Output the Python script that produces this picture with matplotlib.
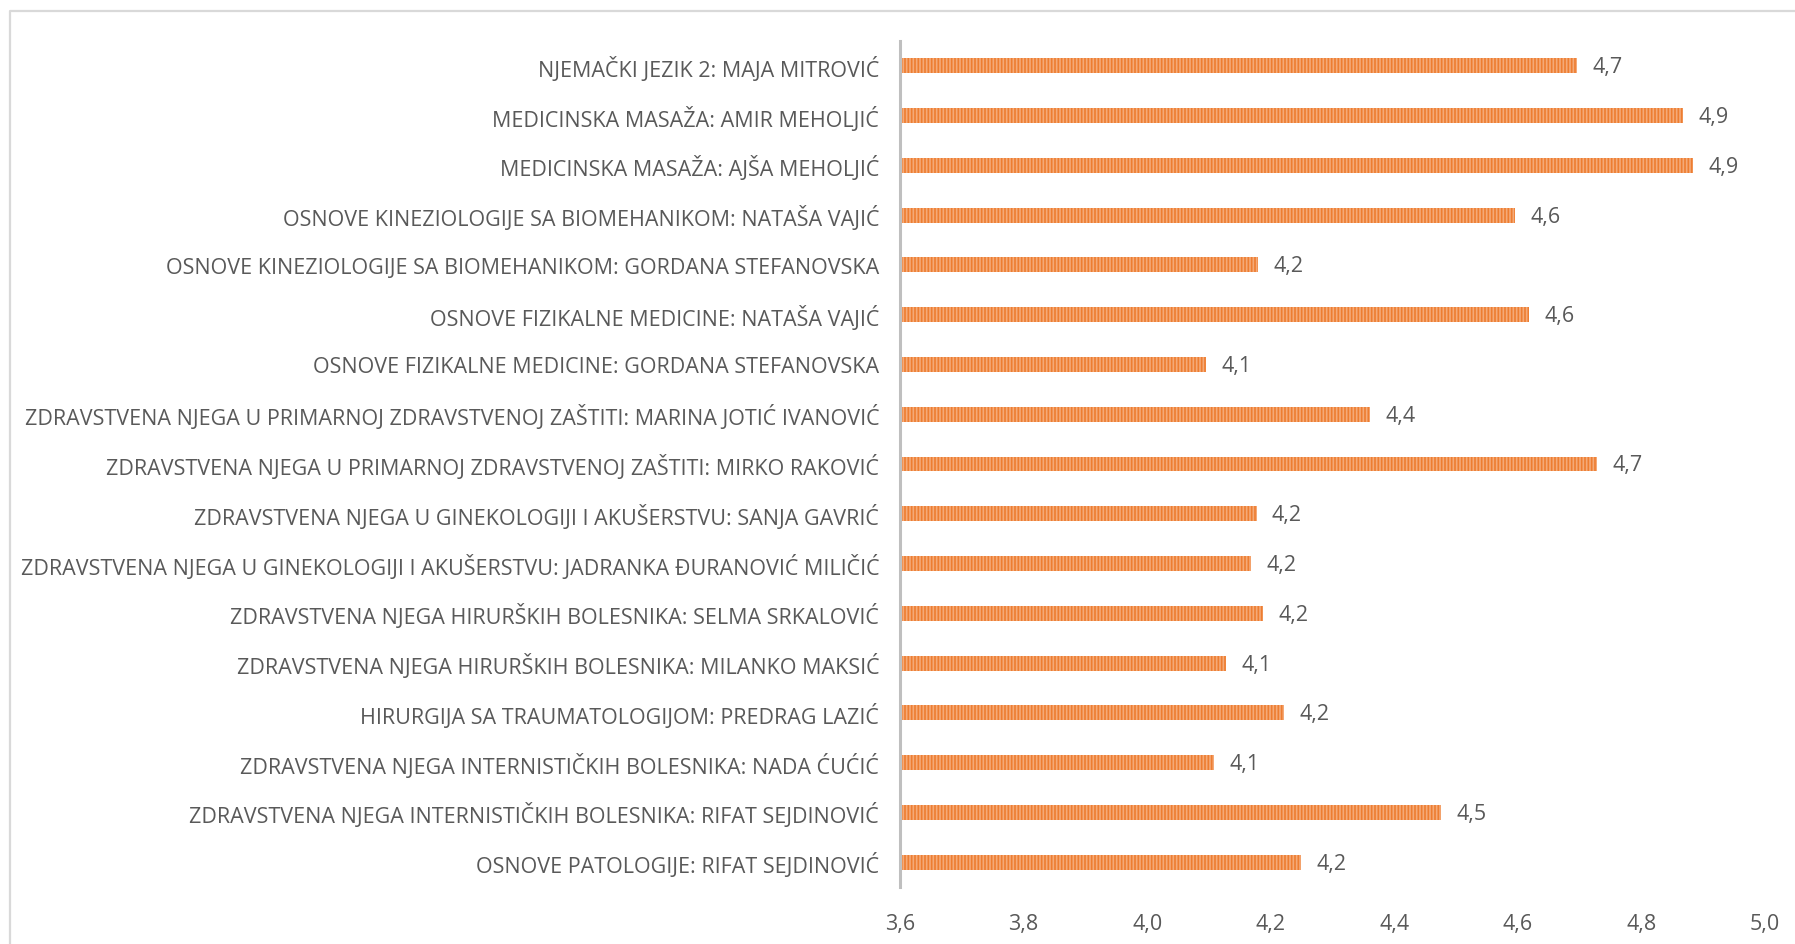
import matplotlib.pyplot as plt
from matplotlib.lines import Line2D

# categories top to bottom, as in the reference
predmeti = [
    'NJEMAČKI JEZIK 2: MAJA MITROVIĆ',
    'MEDICINSKA MASAŽA: AMIR MEHOLJIĆ',
    'MEDICINSKA MASAŽA: AJŠA MEHOLJIĆ',
    'OSNOVE KINEZIOLOGIJE SA BIOMEHANIKOM: NATAŠA VAJIĆ',
    'OSNOVE KINEZIOLOGIJE SA BIOMEHANIKOM: GORDANA STEFANOVSKA',
    'OSNOVE FIZIKALNE MEDICINE: NATAŠA VAJIĆ',
    'OSNOVE FIZIKALNE MEDICINE: GORDANA STEFANOVSKA',
    'ZDRAVSTVENA NJEGA U PRIMARNOJ ZDRAVSTVENOJ ZAŠTITI: MARINA JOTIĆ IVANOVIĆ',
    'ZDRAVSTVENA NJEGA U PRIMARNOJ ZDRAVSTVENOJ ZAŠTITI: MIRKO RAKOVIĆ',
    'ZDRAVSTVENA NJEGA U GINEKOLOGIJI I AKUŠERSTVU: SANJA GAVRIĆ',
    'ZDRAVSTVENA NJEGA U GINEKOLOGIJI I AKUŠERSTVU: JADRANKA ĐURANOVIĆ MILIČIĆ',
    'ZDRAVSTVENA NJEGA HIRURŠKIH BOLESNIKA: SELMA SRKALOVIĆ',
    'ZDRAVSTVENA NJEGA HIRURŠKIH BOLESNIKA: MILANKO MAKSIĆ',
    'HIRURGIJA SA TRAUMATOLOGIJOM: PREDRAG LAZIĆ',
    'ZDRAVSTVENA NJEGA INTERNISTIČKIH BOLESNIKA: NADA ĆUĆIĆ',
    'ZDRAVSTVENA NJEGA INTERNISTIČKIH BOLESNIKA: RIFAT SEJDINOVIĆ',
    'OSNOVE PATOLOGIJE: RIFAT SEJDINOVIĆ',
]

# average grades
ocjene = [4.696, 4.868, 4.884, 4.595, 4.179, 4.618, 4.095, 4.361, 4.728,
          4.177, 4.168, 4.187, 4.127, 4.222, 4.108, 4.475, 4.249]

x_ticks = [3.6, 3.8, 4.0, 4.2, 4.4, 4.6, 4.8, 5.0]

siva = '#595959'
narandzasta = '#ED7D31'
fs = 15.5

plt.rcParams['font.family'] = ['Open Sans', 'DejaVu Sans']
plt.rcParams['hatch.linewidth'] = 1.2
plt.rcParams['hatch.color'] = narandzasta

fig = plt.figure(figsize=(17.95, 9.45), dpi=100)
ax = fig.add_axes([900 / 1795, 1 - 888 / 945, 865 / 1795, (888 - 42) / 945])

y = list(range(len(predmeti)))
bars = ax.barh(y, [v - 3.6 for v in ocjene], left=3.6, height=0.3,
               color='#F5AA78', edgecolor=narandzasta, hatch='|||||', linewidth=0)

for yy, v in zip(y, ocjene):
    ax.text(v + 0.025, yy + 0.02, f'{v:.1f}'.replace('.', ','), va='center', ha='left',
            fontsize=fs, color=siva)

ax.set_xlim(3.6, 5.0)
ax.set_ylim(len(predmeti) - 0.5, -0.5)
ax.set_yticks(y)
ax.set_yticklabels(predmeti, fontsize=fs, color=siva)
ax.set_xticks(x_ticks)
ax.set_xticklabels([f'{t:.1f}'.replace('.', ',') for t in x_ticks], fontsize=fs, color=siva)
ax.tick_params(axis='y', length=0, pad=15)
ax.tick_params(axis='x', length=0, pad=19)

for s in ['top', 'right', 'bottom']:
    ax.spines[s].set_visible(False)
ax.spines['left'].set_color('#BFBFBF')
ax.spines['left'].set_linewidth(2.2)

# outer chart frame (only left and top visible in the crop)
fx = 10 / 1795
fy = 1 - 12 / 945
fig.add_artist(Line2D([fx, fx, 1.0], [0.0, fy, fy], color='#D9D9D9', linewidth=1.6,
                      transform=fig.transFigure))

fig.savefig('out.png', dpi=100)
